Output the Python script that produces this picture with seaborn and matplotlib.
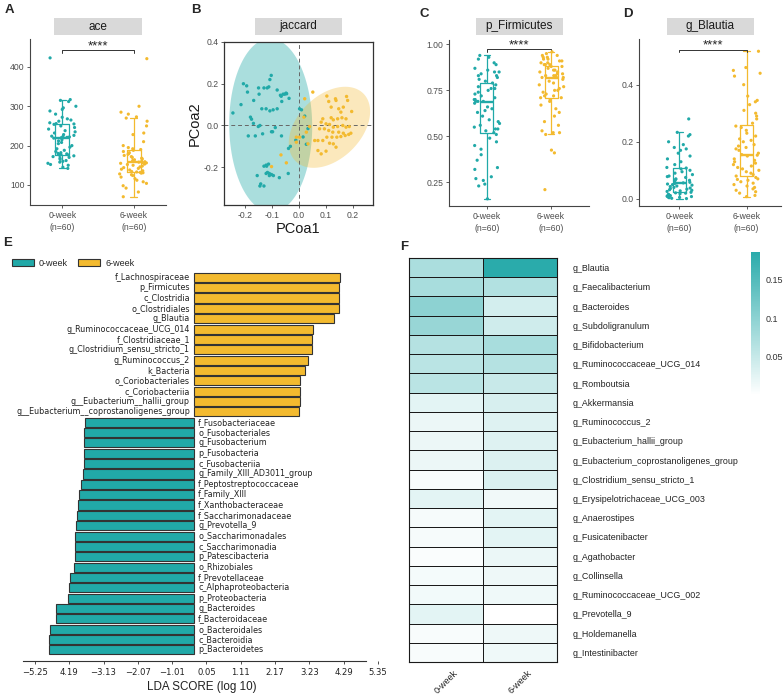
import numpy as np
import pandas as pd
import matplotlib
matplotlib.use('Agg')
import matplotlib.pyplot as plt
from matplotlib.patches import Rectangle, Patch
from matplotlib.colors import LinearSegmentedColormap
import seaborn as sns

TEAL = '#21A9A8'
GOLD = '#F3BA2F'
groups = ['0-week', '6-week']
group_labels = ['0-week\n(n=60)', '6-week\n(n=60)']

# ---- panel A: ace
ace_0wk = [423, 317, 315, 312, 300, 296, 292, 288, 280, 272, 268, 265, 262, 258, 256,
           255, 254, 250, 246, 242, 238, 235, 232, 228, 226, 224, 223, 222, 221, 220,
           219, 215, 212, 208, 205, 200, 196, 192, 188, 185, 182, 180, 179, 178, 177,
           176, 175, 174, 172, 170, 168, 165, 162, 160, 158, 155, 152, 150, 145, 142]
ace_6wk = [421, 300, 285, 280, 273, 270, 262, 250, 232, 228, 210, 200, 195, 192, 190,
           188, 185, 182, 180, 178, 175, 172, 170, 168, 166, 164, 162, 160, 159, 158,
           157, 156, 155, 153, 152, 150, 148, 146, 144, 142, 140, 138, 136, 134, 133,
           132, 131, 130, 128, 126, 124, 120, 116, 112, 108, 104, 98, 92, 82, 70]

# ---- panel C: p_Firmicutes
firm_0wk = [0.94, 0.93, 0.92, 0.90, 0.89, 0.87, 0.86, 0.85, 0.85, 0.84, 0.83, 0.83, 0.82, 0.81, 0.80,
            0.79, 0.78, 0.77, 0.76, 0.76, 0.75, 0.74, 0.73, 0.72, 0.71, 0.70, 0.70, 0.69, 0.69, 0.69,
            0.68, 0.66, 0.65, 0.64, 0.63, 0.61, 0.59, 0.58, 0.57, 0.56, 0.55, 0.54, 0.54, 0.53, 0.52,
            0.51, 0.49, 0.47, 0.45, 0.43, 0.40, 0.37, 0.33, 0.32, 0.28, 0.27, 0.26, 0.24, 0.23, 0.16]
firm_6wk = [0.96, 0.95, 0.94, 0.94, 0.93, 0.93, 0.92, 0.92, 0.91, 0.91, 0.90, 0.90, 0.89, 0.89, 0.89,
            0.88, 0.88, 0.87, 0.86, 0.86, 0.85, 0.85, 0.84, 0.84, 0.83, 0.83, 0.83, 0.82, 0.82, 0.82,
            0.82, 0.81, 0.80, 0.79, 0.78, 0.77, 0.76, 0.75, 0.75, 0.74, 0.73, 0.72, 0.72, 0.71, 0.71,
            0.70, 0.69, 0.67, 0.65, 0.63, 0.61, 0.58, 0.56, 0.53, 0.52, 0.52, 0.51, 0.425, 0.41, 0.21]

# ---- panel D: g_Blautia
blau_0wk = [0.28, 0.233, 0.225, 0.22, 0.20, 0.19, 0.18, 0.175, 0.17, 0.16, 0.15, 0.14, 0.13, 0.12, 0.11,
            0.108, 0.105, 0.10, 0.095, 0.09, 0.085, 0.08, 0.078, 0.075, 0.07, 0.068, 0.065, 0.062, 0.058, 0.056,
            0.054, 0.052, 0.05, 0.048, 0.045, 0.043, 0.04, 0.038, 0.036, 0.034, 0.032, 0.03, 0.028, 0.026, 0.023,
            0.021, 0.02, 0.018, 0.016, 0.014, 0.012, 0.011, 0.01, 0.009, 0.008, 0.006, 0.005, 0.004, 0.002, 0.001]
blau_6wk = [0.517, 0.46, 0.45, 0.44, 0.43, 0.40, 0.36, 0.345, 0.34, 0.33, 0.31, 0.30, 0.29, 0.28, 0.265,
            0.255, 0.25, 0.24, 0.23, 0.22, 0.21, 0.205, 0.20, 0.19, 0.185, 0.18, 0.175, 0.17, 0.16, 0.155,
            0.153, 0.15, 0.14, 0.135, 0.13, 0.125, 0.12, 0.115, 0.11, 0.105, 0.10, 0.095, 0.09, 0.085, 0.08,
            0.075, 0.07, 0.068, 0.065, 0.06, 0.055, 0.05, 0.045, 0.04, 0.035, 0.03, 0.025, 0.02, 0.012, 0.008]

# ---- panel B: jaccard PCoA
pc1_0wk = [-0.245, -0.215, -0.206, -0.194, -0.191, -0.180, -0.176, -0.169, -0.162, -0.188, -0.168, -0.150,
           -0.148, -0.138, -0.130, -0.122, -0.118, -0.108, -0.103, -0.112, -0.108, -0.096, -0.081, -0.081,
           -0.069, -0.066, -0.059, -0.053, -0.048, -0.046, -0.037, -0.064, 0.002, 0.009, 0.021, 0.033,
           0.027, 0.015, -0.012, -0.039, -0.032, -0.065, -0.088, -0.102, -0.098, -0.135, -0.145, -0.151,
           -0.122, -0.120, -0.113, -0.110, -0.117, -0.122, -0.102, -0.110, -0.095, -0.073, -0.040, -0.155,
           -0.142, -0.145, -0.130, -0.130]
pc2_0wk = [0.06, 0.10, 0.20, 0.19, 0.16, 0.04, 0.03, 0.01, -0.05, -0.05, 0.12, 0.18,
           0.15, 0.08, 0.18, 0.08, 0.18, 0.22, 0.24, 0.185, 0.07, 0.075, 0.08, 0.17,
           0.145, 0.14, 0.15, 0.15, 0.155, 0.152, 0.13, 0.115, 0.08, 0.075, 0.045, -0.015,
           -0.09, -0.055, -0.07, -0.11, -0.10, -0.05, -0.01, -0.03, -0.03, -0.04, 0.0, -0.005,
           -0.19, -0.195, -0.185, -0.23, -0.225, -0.23, -0.235, -0.24, -0.24, -0.25, -0.23, -0.24,
           -0.28, -0.29, -0.29, -0.195]
pc1_6wk = [0.051, 0.021, 0.018, 0.103, 0.135, 0.137, 0.176, 0.180, 0.164, 0.195, 0.155, 0.119,
           0.127, 0.143, 0.159, 0.174, 0.088, 0.082, 0.100, 0.113, 0.127, 0.143, 0.162, 0.174,
           0.186, 0.076, 0.094, 0.110, 0.125, 0.147, 0.164, 0.184, 0.192, 0.058, 0.070, 0.088,
           0.103, 0.122, 0.140, 0.155, 0.171, 0.113, 0.127, 0.070, 0.082, 0.100, 0.137, 0.039,
           0.027, -0.010, -0.010, -0.067, -0.047, -0.102, 0.002, 0.033, 0.110, 0.119, 0.147]
pc2_6wk = [0.160, 0.128, 0.040, 0.141, 0.128, 0.120, 0.139, 0.120, 0.088, 0.067, 0.064, 0.037,
           0.027, 0.032, 0.037, 0.032, 0.032, 0.016, 0.008, 0.005, -0.008, -0.005, 0.000, -0.008,
           -0.005, -0.016, -0.016, -0.024, -0.032, -0.032, -0.037, -0.043, -0.037, -0.072, -0.072, -0.072,
           -0.056, -0.056, -0.056, -0.053, -0.048, -0.085, -0.088, -0.120, -0.136, -0.123, -0.104, -0.005,
           -0.032, -0.056, -0.080, -0.141, -0.179, -0.197, -0.056, -0.088, 0.115, 0.088, 0.080]

# ---- panel E: LEfSe
lefse_taxa = ['f_Lachnospiraceae', 'p_Firmicutes', 'c_Clostridia', 'o_Clostridiales', 'g_Blautia',
              'g_Ruminococcaceae_UCG_014', 'f_Clostridiaceae_1', 'g_Clostridium_sensu_stricto_1',
              'g_Ruminococcus_2', 'k_Bacteria', 'o_Coriobacteriales', 'c_Coriobacteriia',
              'g__Eubacterium__hallii_group', 'g__Eubacterium__coprostanoligenes_group',
              'f_Fusobacteriaceae', 'o_Fusobacteriales', 'g_Fusobacterium', 'p_Fusobacteria',
              'c_Fusobacteriia', 'g_Family_XIII_AD3011_group', 'f_Peptostreptococcaceae',
              'f_Family_XIII', 'f_Xanthobacteraceae', 'f_Saccharimonadaceae', 'g_Prevotella_9',
              'o_Saccharimonadales', 'c_Saccharimonadia', 'p_Patescibacteria', 'o_Rhizobiales',
              'f_Prevotellaceae', 'c_Alphaproteobacteria', 'p_Proteobacteria', 'g_Bacteroides',
              'f_Bacteroidaceae', 'o_Bacteroidales', 'c_Bacteroidia', 'p_Bacteroidetes']
lefse_lda = [4.46, 4.43, 4.43, 4.43, 4.30, 3.64, 3.61, 3.61, 3.48, 3.41, 3.26, 3.26, 3.24, 3.22,
             3.34, 3.36, 3.37, 3.38, 3.38, 3.40, 3.48, 3.52, 3.56, 3.59, 3.63, 3.65, 3.65, 3.65,
             3.69, 3.79, 3.84, 3.87, 4.23, 4.23, 4.41, 4.44, 4.44]
lefse_group = ['6-week'] * 14 + ['0-week'] * 23
lda_ticklabels = ['\u22125.25', '4.19', '\u22123.13', '\u22122.07', '\u22121.01', '0.05',
                  '1.11', '2.17', '3.23', '4.29', '5.35']

# ---- panel F: heatmap
heat_taxa = ['g_Blautia', 'g_Faecalibacterium', 'g_Bacteroides', 'g_Subdoligranulum',
             'g_Bifidobacterium', 'g_Ruminococcaceae_UCG_014', 'g_Romboutsia', 'g_Akkermansia',
             'g_Ruminococcus_2', 'g_Eubacterium_hallii_group', 'g_Eubacterium_coprostanoligenes_group',
             'g_Clostridium_sensu_stricto_1', 'g_Erysipelotrichaceae_UCG_003', 'g_Anaerostipes',
             'g_Fusicatenibacter', 'g_Agathobacter', 'g_Collinsella', 'g_Ruminococcaceae_UCG_002',
             'g_Prevotella_9', 'g_Holdemanella', 'g_Intestinibacter']
heat_0wk = [0.074, 0.076, 0.099, 0.090, 0.065, 0.061, 0.061, 0.024, 0.017, 0.017, 0.017,
            0.006, 0.025, 0.008, 0.008, 0.005, 0.010, 0.011, 0.024, 0.006, 0.006]
heat_6wk = [0.186, 0.067, 0.039, 0.042, 0.076, 0.065, 0.048, 0.035, 0.029, 0.029, 0.031,
            0.032, 0.013, 0.024, 0.024, 0.018, 0.015, 0.014, 0.000, 0.015, 0.014]

sns.set_style('ticks')
plt.rcParams['font.family'] = ['Liberation Sans', 'DejaVu Sans']

W, H = 783, 695
fig = plt.figure(figsize=(W / 100, H / 100), dpi=100)
pal = {'0-week': TEAL, '6-week': GOLD}


def px_axes(l, t, r, b):
    return fig.add_axes([l / W, 1 - b / H, (r - l) / W, (b - t) / H])


def strip(ax, text):
    pos = ax.get_position()
    cx = pos.x0 + pos.width / 2
    w, h, y0 = 87 / W, 17 / H, 1 - 35 / H
    fig.add_artist(Rectangle((cx - w / 2, y0), w, h, transform=fig.transFigure,
                             facecolor='#d9d9d9', edgecolor='none'))
    fig.text(cx, y0 + h / 2, text, ha='center', va='center', fontsize=8.5, color='#1a1a1a')


def box_panel(ax, v0, v1, title, xlim, ylim, yticks, ytl, sig_y, sig_tick):
    df = pd.DataFrame({'group': ['0-week'] * len(v0) + ['6-week'] * len(v1), 'value': v0 + v1})
    sns.boxplot(data=df, x='group', y='value', hue='group', palette=pal, fill=False, width=0.2,
                showfliers=False, linewidth=0.9, legend=False, medianprops={'linewidth': 1.7}, ax=ax)
    sns.stripplot(data=df, x='group', y='value', hue='group', palette=pal, jitter=0.2, size=2.3,
                  linewidth=0, legend=False, ax=ax)
    ax.set_xlim(*xlim)
    ax.set_ylim(*ylim)
    ax.set_yticks(yticks)
    ax.set_yticklabels(ytl)
    ax.set_xticks([0, 1])
    ax.set_xticklabels(group_labels, linespacing=1.5)
    ax.set_xlabel('')
    ax.set_ylabel('')
    sns.despine(ax=ax)
    for s in ['left', 'bottom']:
        ax.spines[s].set_color('#444')
        ax.spines[s].set_linewidth(0.8)
    ax.tick_params(length=2.5, width=0.6, color='#444', labelsize=6.2, labelcolor='#4d4d4d', pad=1.5)
    ax.plot([0, 0, 1, 1], [sig_y - sig_tick, sig_y, sig_y, sig_y - sig_tick], color='#333',
            lw=0.7, clip_on=False)
    ax.annotate('****', xy=(0.5, sig_y), xytext=(0, -1.5), textcoords='offset points',
                ha='center', va='bottom', fontsize=9.5, color='#222', annotation_clip=False)
    strip(ax, title)


np.random.seed(7)

axA = px_axes(30, 39, 166, 205)
box_panel(axA, ace_0wk, ace_6wk, 'ace', (-0.45, 1.45), (49, 471), [100, 200, 300, 400],
          ['100', '200', '300', '400'], 442, 7)

axC = px_axes(449, 40, 589, 206)
box_panel(axC, firm_0wk, firm_6wk, 'p_Firmicutes', (-0.59, 1.59), (0.121, 1.024),
          [0.25, 0.5, 0.75, 1.0], ['0.25', '0.50', '0.75', '1.00'], 0.973, 0.013)

axD = px_axes(639, 39, 781, 206)
box_panel(axD, blau_0wk, blau_6wk, 'g_Blautia', (-0.6, 1.51), (-0.025, 0.56),
          [0.0, 0.2, 0.4], ['0.0', '0.2', '0.4'], 0.523, 0.008)


# ---- panel B
def ellipse_poly(x, y, qf=3.8, nu=5):
    # robust (t) covariance ellipse, like stat_ellipse; qf ~ F quantile for the level
    X = np.column_stack([x, y])
    n, p = X.shape
    w = np.ones(n)
    for _ in range(60):
        loc = (w[:, None] * X).sum(0) / w.sum()
        Xc = X - loc
        cov = (w[:, None] * Xc).T @ Xc / n
        d2 = np.sum(Xc @ np.linalg.inv(cov) * Xc, axis=1)
        w = (nu + p) / (nu + d2)
    r = np.sqrt(p * qf)
    t = np.linspace(0, 2 * np.pi, 120)
    circ = np.column_stack([np.cos(t), np.sin(t)])
    pts = loc + r * circ @ np.linalg.cholesky(cov).T
    return pts[:, 0], pts[:, 1]


axB = px_axes(224, 42, 373, 205)
pcoa = pd.DataFrame({'PCoa1': pc1_0wk + pc1_6wk, 'PCoa2': pc2_0wk + pc2_6wk,
                     'group': ['0-week'] * len(pc1_0wk) + ['6-week'] * len(pc1_6wk)})
ex, ey = ellipse_poly(pc1_0wk, pc2_0wk)
axB.fill(ex, ey, color=TEAL, alpha=0.38, lw=0, zorder=1)
ex, ey = ellipse_poly(pc1_6wk, pc2_6wk)
axB.fill(ex, ey, color=GOLD, alpha=0.32, lw=0, zorder=1)
axB.axhline(0, color='#666', lw=0.7, ls=(0, (4, 3)), zorder=2)
axB.axvline(0, color='#666', lw=0.7, ls=(0, (4, 3)), zorder=2)
sns.scatterplot(data=pcoa, x='PCoa1', y='PCoa2', hue='group', palette=pal, s=6, linewidth=0,
                legend=False, ax=axB, zorder=3)
axB.set_xlim(-0.278, 0.274)
axB.set_ylim(-0.381, 0.4)
axB.set_xticks([-0.2, -0.1, 0.0, 0.1, 0.2])
axB.set_xticklabels(['-0.2', '-0.1', '0.0', '0.1', '0.2'])
axB.set_yticks([-0.2, 0.0, 0.2, 0.4])
axB.set_yticklabels(['-0.2', '0.0', '0.2', '0.4'])
axB.set_xlabel('PCoa1', fontsize=10.5, color='#1a1a1a', labelpad=1.5)
axB.set_ylabel('PCoa2', fontsize=10.5, color='#1a1a1a', labelpad=1)
for s in axB.spines.values():
    s.set_color('#333')
    s.set_linewidth(0.9)
axB.tick_params(length=2.5, width=0.6, color='#444', labelsize=6.2, labelcolor='#4d4d4d', pad=1.5)
strip(axB, 'jaccard')

# ---- panel E
axE = px_axes(23, 268, 380, 661)
sign = np.where(np.array(lefse_group) == '6-week', 1, -1)
lefse = pd.DataFrame({'taxon': lefse_taxa, 'lda': np.array(lefse_lda) * sign, 'group': lefse_group})
sns.barplot(data=lefse, x='lda', y='taxon', hue='group', palette=pal, dodge=False, orient='h',
            width=0.88, edgecolor='#333', linewidth=0.8, saturation=1, legend=False, ax=axE)
for i, (t, v) in enumerate(zip(lefse['taxon'], lefse['lda'])):
    off = -3 if v > 0 else 3
    axE.annotate(t, xy=(0, i), xytext=(off, 0), textcoords='offset points',
                 ha='right' if v > 0 else 'left', va='center', fontsize=5.8,
                 family='DejaVu Sans', color='#222')
axE.set_ylim(37.07, -0.9)
axE.set_xlim(-5.245, 5.7)
axE.set_yticks([])
axE.set_ylabel('')
axE.set_xticks(np.linspace(-4.88, 5.64, 11))
axE.set_xticklabels(lda_ticklabels, family='DejaVu Sans')
axE.set_xlabel('LDA SCORE (log 10)', fontsize=8.4, color='#222', labelpad=3)
for s in ['left', 'top', 'right']:
    axE.spines[s].set_visible(False)
axE.spines['bottom'].set_bounds(-5.245, 5.276)
axE.spines['bottom'].set_color('#333')
axE.tick_params(axis='x', length=2.5, width=0.6, color='#333', labelsize=6.1, labelcolor='#222', pad=2.5)
handles = [Patch(facecolor=TEAL, edgecolor='#333', lw=0.8, label='0-week'),
           Patch(facecolor=GOLD, edgecolor='#333', lw=0.8, label='6-week')]
fig.legend(handles=handles, loc='center left', bbox_to_anchor=(12 / W, 1 - 263 / H), ncol=2,
           frameon=False, fontsize=6.5, handlelength=2.4, handleheight=0.8, handletextpad=0.6,
           columnspacing=1.1, borderpad=0, borderaxespad=0)

# ---- panel F
axF = px_axes(409, 258, 557, 662)
cax = px_axes(751, 252, 760, 395)
heat = pd.DataFrame({'0-week': heat_0wk, '6-week': heat_6wk}, index=heat_taxa)
cmap = LinearSegmentedColormap.from_list('tw', ['#ffffff', '#2AABAB'])
sns.heatmap(heat, ax=axF, cmap=cmap, linewidths=0.5, linecolor='#1a1a1a', cbar_ax=cax,
            cbar_kws={'ticks': [0.05, 0.1, 0.15]})
axF.yaxis.tick_right()
axF.set_yticks(np.arange(len(heat_taxa)) + 0.5)
axF.set_yticklabels(heat_taxa, rotation=0, ha='left', fontsize=6.4, color='#222')
axF.tick_params(axis='y', length=0, pad=11)
axF.set_xticklabels(groups, rotation=45, ha='center', fontsize=6.5, color='#222')
axF.tick_params(axis='x', length=0, pad=5)
for s in axF.spines.values():
    s.set_visible(True)
    s.set_color('#1a1a1a')
    s.set_linewidth(0.8)
cb = axF.collections[0].colorbar
cb.outline.set_visible(False)
cax.set_yticklabels(['0.05', '0.1', '0.15'])
cax.tick_params(length=0, labelsize=6.5, labelcolor='#333', pad=4)

# panel letters
for lab, x, y in [('A', 9, 10), ('B', 196, 10), ('C', 424, 14), ('D', 628, 14),
                  ('E', 8, 243), ('F', 404, 247)]:
    fig.text(x / W, 1 - y / H, lab, ha='center', va='center', fontsize=9.5, fontweight='bold')

fig.savefig('out.png', dpi=100)
